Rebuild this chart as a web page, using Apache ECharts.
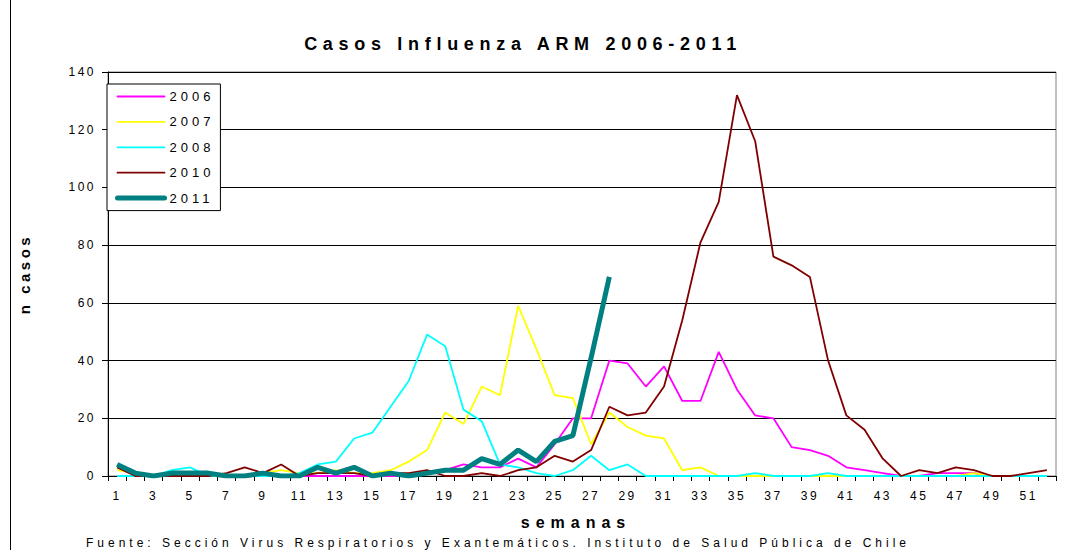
<!DOCTYPE html>
<html>
<head>
<meta charset="utf-8">
<script src="https://cdn.jsdelivr.net/npm/echarts@6/dist/echarts.min.js"></script>
<style>
html,body{margin:0;padding:0;background:#fff;}
#main{width:1067px;height:550px;}
</style>
</head>
<body>
<div id="main"></div>
<script>
const TITLE = 'Casos Influenza ARM 2006-2011';
const SOURCE = 'Fuente: Sección Virus Respiratorios y Exantemáticos. Instituto de Salud Pública de Chile';
const X_NAME = 'semanas';
const Y_NAME = 'n casos';

const weeks = Array.from({length: 52}, (_, i) => String(i + 1));
const yTicks = [0, 20, 40, 60, 80, 100, 120, 140];

const seriesNames = ['2006', '2007', '2008', '2010', '2011'];

const y2006 = [0,0,0,0,0,0,0,0,0,0,0,0,0,0,0,0,0,1,2,4,3,3,6,3,11,20,20,40,39,31,38,26,26,43,30,21,20,10,9,7,3,2,1,0,0,1,1,1,0,0,0,0];
const y2007 = [2,1,0,0,1,0,0,0,1,2,1,1,2,1,1,2,5,9,22,18,31,28,59,44,28,27,11,22,17,14,13,2,3,0,0,0,0,0,0,0,0,0,0,0,0,0,0,1,0,0,0,0];
const y2008 = [0,0,0,2,3,0,0,0,0,0,1,4,5,13,15,24,33,49,45,23,19,4,3,1,0,2,7,2,4,0,0,0,0,0,0,1,0,0,0,1,0,0,0,0,0,0,0,0,0,0,0,0];
const y2010 = [3,0,0,0,0,0,1,3,1,4,0,1,1,1,0,1,1,2,0,0,1,0,2,3,7,5,9,24,21,22,31,54,81,95,132,116,76,73,69,40,21,16,6,0,2,1,3,2,0,0,1,2];
const y2011 = [4,1,0,1,1,1,0,0,1,0,0,3,1,3,0,1,0,1,2,2,6,4,9,5,12,14,41,69];

const colors = ['#FF00FF', '#FFFF00', '#00FFFF', '#800000', '#008080'];
const widths = [1.8, 1.8, 1.8, 1.8, 5];
const dataSets = [y2006, y2007, y2008, y2010, y2011];

const FONT = '"Liberation Sans", Arial, sans-serif';

const chart = echarts.init(document.getElementById('main'), null, {renderer: 'svg'});

const option = {
  animation: false,
  backgroundColor: '#fff',
  grid: {left: 108, right: 11, top: 72, bottom: 74, show: true, borderColor: '#808080', borderWidth: 1, containLabel: false},
  legend: {
    data: seriesNames.map((n, i) => ({name: n, lineStyle: {width: widths[i], color: colors[i], cap: 'round'}})),
    orient: 'vertical',
    left: 107, top: 84,
    itemWidth: 47, itemHeight: 14, itemGap: 12.4,
    padding: [6, 22, 6, 8],
    borderColor: '#000', borderWidth: 1,
    backgroundColor: '#fff',
    selectedMode: false,
    itemStyle: {opacity: 0},
    textStyle: {fontFamily: FONT, fontSize: 13, color: '#000'}
  },
  xAxis: {
    type: 'category',
    data: weeks,
    boundaryGap: true,
    axisLine: {lineStyle: {color: '#000', width: 1}},
    axisTick: {show: true, interval: 0, length: 5, lineStyle: {color: '#000'}},
    axisLabel: {interval: 1, margin: 14, fontFamily: FONT, fontSize: 12, color: '#000'},
    splitLine: {show: false}
  },
  yAxis: {
    type: 'value',
    min: 0, max: 140, interval: 20,
    name: Y_NAME,
    nameLocation: 'middle',
    nameRotate: 90,
    nameGap: 76,
    nameTextStyle: {fontFamily: FONT, fontSize: 15, fontWeight: 'bold', color: '#000'},
    axisLine: {show: true, lineStyle: {color: '#000', width: 1}},
    axisTick: {show: true, length: 6, lineStyle: {color: '#000'}},
    axisLabel: {margin: 12, fontFamily: FONT, fontSize: 12, color: '#000',
      formatter: v => yTicks.includes(v) ? String(v) : ''},
    splitLine: {show: true, lineStyle: {color: '#000', width: 1}}
  },
  graphic: [
    {type: 'text', silent: true, style: {text: TITLE, x: 523, y: 44, textAlign: 'center', textVerticalAlign: 'middle', font: 'bold 18px ' + FONT, fill: '#000'}},
    {type: 'text', silent: true, style: {text: X_NAME, x: 576, y: 522, textAlign: 'center', textVerticalAlign: 'middle', font: 'bold 16px ' + FONT, fill: '#000'}},
    {type: 'text', silent: true, style: {text: SOURCE, x: 86, y: 543, textAlign: 'left', textVerticalAlign: 'middle', font: '12px ' + FONT, fill: '#000'}},
    {type: 'line', silent: true, shape: {x1: 10.5, y1: 0, x2: 10.5, y2: 550}, style: {stroke: '#000', lineWidth: 1}}
  ],
  series: seriesNames.map((n, i) => ({
    name: n,
    type: 'line',
    data: dataSets[i],
    symbol: 'none',
    silent: true,
    smooth: false,
    lineStyle: {color: colors[i], width: widths[i]},
    itemStyle: {color: colors[i]},
    z: 2 + i
  }))
};

function applySpacing() {
  document.querySelectorAll('#main svg text').forEach(t => {
    const s = t.textContent;
    let ls = null;
    if (s === TITLE) ls = 5.7;
    else if (s === SOURCE) ls = 4;
    else if (s === X_NAME) ls = 6;
    else if (s === Y_NAME) ls = 3.5;
    else if (seriesNames.includes(s)) ls = 4;
    else if (/^\d+$/.test(s)) ls = 2.5;
    if (ls !== null) t.style.letterSpacing = ls + 'px';
  });
}
chart.on('finished', applySpacing);
chart.setOption(option);
applySpacing();
setTimeout(applySpacing, 50);
</script>
</body>
</html>
